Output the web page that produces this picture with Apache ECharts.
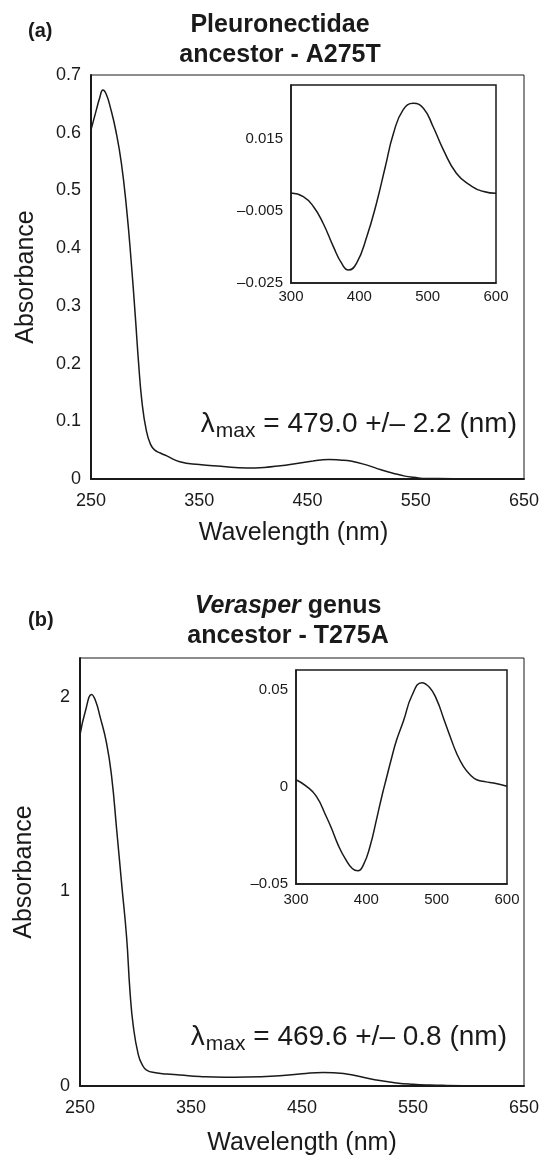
<!DOCTYPE html>
<html>
<head>
<meta charset="utf-8">
<script src="https://cdn.jsdelivr.net/npm/echarts@6/dist/echarts.min.js"></script>
<style>
  html, body { margin: 0; padding: 0; background: #fff; }
  #chart { width: 548px; height: 1157px; }
</style>
</head>
<body>
<div id="chart"></div>
<script>
// panel (a) main spectrum
var aWl  = [250, 255, 258, 261, 264, 268, 273, 278, 283, 287, 291, 294, 297, 301, 305, 309, 314, 320, 332, 350, 370, 394, 410, 425, 440, 455, 462, 470, 480, 490, 505, 518, 529, 540, 548, 560, 570, 600, 650];
var aAbs = [0.605, 0.640, 0.660, 0.674, 0.667, 0.643, 0.603, 0.548, 0.466, 0.380, 0.280, 0.200, 0.135, 0.085, 0.060, 0.050, 0.045, 0.040, 0.030, 0.025, 0.022, 0.019, 0.020, 0.023, 0.027, 0.031, 0.033, 0.034, 0.033, 0.031, 0.024, 0.016, 0.010, 0.005, 0.003, 0.001, 0.001, 0.000, 0.000];
// panel (a) inset difference spectrum
var aInWl   = [300, 318, 333, 347, 362, 374, 384, 396, 411, 425, 438, 450, 464, 479, 494, 508, 523, 542, 562, 582, 600];
var aInDiff = [0.0000, -0.0010, -0.0038, -0.0084, -0.0149, -0.0195, -0.0214, -0.0195, -0.0121, -0.0029, 0.0073, 0.0166, 0.0231, 0.0249, 0.0235, 0.0184, 0.0120, 0.0055, 0.0022, 0.0004, -0.0001];
// panel (b) main spectrum
var bWl  = [250, 255, 260.5, 264, 268, 274, 278.5, 283, 287.5, 292, 295, 298, 302.5, 306, 310, 318, 328, 340, 358, 380, 400, 430, 450, 469, 490, 505, 520, 535, 550, 565, 580, 610, 650];
var bAbs = [1.805, 1.930, 2.012, 1.980, 1.900, 1.760, 1.590, 1.320, 1.040, 0.763, 0.489, 0.308, 0.161, 0.110, 0.082, 0.068, 0.062, 0.057, 0.049, 0.045, 0.046, 0.053, 0.063, 0.070, 0.062, 0.045, 0.028, 0.016, 0.009, 0.005, 0.003, 0.001, 0.000];
// panel (b) inset difference spectrum
var bInWl   = [300, 315, 329, 343, 350, 360, 370, 380, 388, 396, 405, 415, 422, 429, 435, 443, 453, 465, 479, 490, 500, 510, 519, 528, 538, 548, 557, 570, 581, 600];
var bInDiff = [0.0036, 0.0002, -0.0050, -0.0153, -0.0210, -0.0300, -0.0370, -0.0420, -0.0432, -0.0400, -0.0310, -0.0160, -0.0050, 0.0050, 0.0135, 0.0240, 0.0340, 0.0470, 0.0535, 0.0510, 0.0448, 0.0350, 0.0260, 0.0175, 0.0105, 0.0060, 0.0036, 0.0025, 0.0019, 0.0002];

var FONT = 'Liberation Sans, Arial, Helvetica, sans-serif';
var INK = '#1a1a1a';

function pairs(xs, ys) {
  return xs.map(function (x, i) { return [x, ys[i]]; });
}

function dashMinus(v) {
  return v < 0 ? '\u2013' + String(Math.abs(v)) : String(v);
}

var chart = echarts.init(document.getElementById('chart'), null, { renderer: 'canvas' });

function mainX(idx, gap, pad) {
  return {
    type: 'value', gridIndex: idx, min: 250, max: 650, interval: 100,
    name: 'Wavelength (nm)', nameLocation: 'middle', nameGap: gap,
    nameTextStyle: { color: INK, fontSize: 25, fontFamily: FONT, padding: pad },
    axisLine: { onZero: false, lineStyle: { color: INK, width: 2 } },
    axisTick: { show: false },
    splitLine: { show: false },
    axisLabel: { color: INK, fontSize: 18, fontFamily: FONT, margin: 13 }
  };
}
function mainY(idx, max, interval, gap, showMax) {
  return {
    type: 'value', gridIndex: idx, min: 0, max: max, interval: interval,
    name: 'Absorbance', nameLocation: 'middle', nameGap: gap,
    nameTextStyle: { color: INK, fontSize: 25, fontFamily: FONT },
    axisLine: { show: true, onZero: false, lineStyle: { color: INK, width: 2 } },
    axisTick: { show: false },
    splitLine: { show: false },
    axisLabel: { color: INK, fontSize: 18, fontFamily: FONT, margin: 10, showMaxLabel: showMax }
  };
}
function insetX(idx, margin) {
  return {
    type: 'value', gridIndex: idx, min: 300, max: 600, interval: 100,
    axisLine: { onZero: false, lineStyle: { color: INK, width: 1.5 } },
    axisTick: { show: false },
    splitLine: { show: false },
    axisLabel: { color: INK, fontSize: 15, fontFamily: FONT, margin: margin }
  };
}
function insetY(idx, min, max, interval) {
  return {
    type: 'value', gridIndex: idx, min: min, max: max, interval: interval,
    axisLine: { show: true, onZero: false, lineStyle: { color: INK, width: 1.5 } },
    axisTick: { show: false },
    splitLine: { show: false },
    axisLabel: { color: INK, fontSize: 15, fontFamily: FONT, margin: 8, showMaxLabel: false, formatter: dashMinus }
  };
}
function curve(idx, data) {
  return {
    type: 'line', xAxisIndex: idx, yAxisIndex: idx, data: data,
    showSymbol: false, smooth: 0.5,
    lineStyle: { color: INK, width: 1.5 }, animation: false, z: 3
  };
}

function txt(x, y, text, size, opts) {
  var st = {
    x: x, y: y, text: text, fill: INK,
    font: (opts && opts.weight ? opts.weight + ' ' : '') + size + 'px ' + FONT,
    textAlign: (opts && opts.align) || 'left',
    textVerticalAlign: 'middle'
  };
  if (opts && opts.rich) st.rich = opts.rich;
  return { type: 'text', style: st, z: 10 };
}

var lamRich = {
  l: { fontSize: 28, fontFamily: FONT, color: INK },
  s: { fontSize: 21, fontFamily: FONT, color: INK, verticalAlign: 'bottom', padding: [15, 0, 0, 1] },
  n: { fontSize: 28, fontFamily: FONT, color: INK }
};

chart.setOption({
  backgroundColor: '#fff',
  animation: false,
  grid: [
    { left: 91, top: 75, width: 433, height: 404, show: true, borderColor: INK, borderWidth: 1 },
    { left: 291, top: 85, width: 205, height: 198, show: true, borderColor: INK, borderWidth: 1.5, backgroundColor: '#fff' },
    { left: 80, top: 658, width: 444, height: 428, show: true, borderColor: INK, borderWidth: 1 },
    { left: 296, top: 670, width: 211, height: 214, show: true, borderColor: INK, borderWidth: 1.5, backgroundColor: '#fff' }
  ],
  xAxis: [mainX(0, 42, [0, 28, 0, 0]), insetX(1, 6), mainX(2, 45, 0), insetX(3, 8)],
  yAxis: [
    mainY(0, 0.7, 0.1, 52, true),
    insetY(1, -0.025, 0.03, 0.02),
    mainY(2, 2.2, 1, 43, false),
    insetY(3, -0.05, 0.06, 0.05)
  ],
  series: [
    curve(0, pairs(aWl, aAbs)),
    curve(1, pairs(aInWl, aInDiff)),
    curve(2, pairs(bWl, bAbs)),
    curve(3, pairs(bInWl, bInDiff))
  ],
  graphic: [
    txt(28, 31, '(a)', 20, { weight: 'bold' }),
    txt(280, 25, 'Pleuronectidae', 25, { weight: 'bold', align: 'center' }),
    txt(280, 55, 'ancestor - A275T', 25, { weight: 'bold', align: 'center' }),
    txt(517, 424, '{l|\u03bb}{s|max}{n| = 479.0 +/\u2013 2.2 (nm)}', 28, { align: 'right', rich: lamRich }),
    txt(28, 620, '(b)', 20, { weight: 'bold' }),
    txt(288, 606, '{i|Verasper}{r| genus}', 25, { align: 'center', rich: {
      i: { fontSize: 25, fontFamily: FONT, fontWeight: 'bold', fontStyle: 'italic', color: INK },
      r: { fontSize: 25, fontFamily: FONT, fontWeight: 'bold', color: INK }
    } }),
    txt(288, 636, 'ancestor - T275A', 25, { weight: 'bold', align: 'center' }),
    txt(507, 1037, '{l|\u03bb}{s|max}{n| = 469.6 +/\u2013 0.8 (nm)}', 28, { align: 'right', rich: lamRich })
  ]
});
</script>
</body>
</html>
